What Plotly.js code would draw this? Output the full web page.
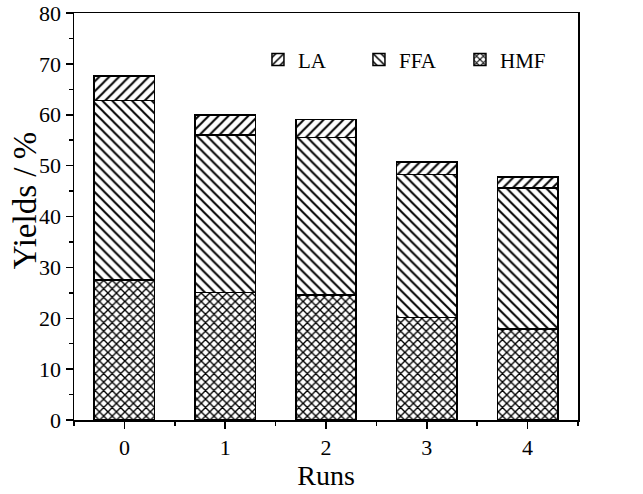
<!DOCTYPE html>
<html>
<head>
<meta charset="utf-8">
<script src="https://cdn.plot.ly/plotly-3.0.1.min.js"></script>
<style>html,body{margin:0;padding:0;background:#fff;}#chart{width:643px;height:494px;}</style>
</head>
<body>
<div id="chart"></div>
<script>
const runs = [0, 1, 2, 3, 4];
const HMF = [27.5, 25.1, 24.6, 20.1, 17.9];
const FFA = [35.3, 30.9, 30.9, 28.2, 27.7];
const LA  = [4.8, 4.0, 3.6, 2.4, 2.2];
const seriesNames = ['HMF', 'FFA', 'LA'];
const seriesShapes = ['x', '\\', '/'];
const seriesValues = [HMF, FFA, LA];

const FONT = '"Liberation Serif", "Times New Roman", "DejaVu Serif", serif';

const traces = seriesValues.map((vals, i) => ({
  type: 'bar',
  name: seriesNames[i],
  x: runs,
  y: vals,
  width: 0.6,
  marker: {
    color: '#fff',
    line: {color: '#000', width: 1.5},
    pattern: {shape: seriesShapes[i], fgcolor: '#000', bgcolor: '#fff', size: i === 0 ? 6 : 7, solidity: i === 0 ? 0.4 : 0.28}
  }
}));

const layout = {
  width: 643, height: 494,
  margin: {l: 74, r: 65, t: 13, b: 74},
  barmode: 'stack',
  paper_bgcolor: '#fff', plot_bgcolor: '#fff',
  font: {family: FONT, color: '#000', size: 22},
  showlegend: true,
  legend: {
    orientation: 'h', traceorder: 'reversed',
    x: 0.365, y: 0.885, xanchor: 'left', yanchor: 'middle',
    entrywidth: 56, entrywidthmode: 'pixels',
    font: {family: FONT, size: 21}, bgcolor: 'rgba(0,0,0,0)'
  },
  xaxis: {
    range: [-0.5, 4.5], tickvals: runs, ticktext: runs.map(String),
    showline: true, mirror: true, linecolor: '#000', linewidth: 1.5,
    ticks: 'outside', ticklen: 7, tickwidth: 1.5, tickcolor: '#000',
    tickfont: {family: FONT, size: 22},
    minor: {dtick: 0.5, tick0: 0.5, ticks: 'outside', ticklen: 4, tickwidth: 1.5, tickcolor: '#000'},
    showgrid: false, zeroline: false,
    title: {text: 'Runs', font: {family: FONT, size: 28}, standoff: 4}
  },
  yaxis: {
    range: [0, 80], dtick: 10,
    showline: true, mirror: true, linecolor: '#000', linewidth: 1.5,
    ticks: 'outside', ticklen: 7, tickwidth: 1.5, tickcolor: '#000',
    tickfont: {family: FONT, size: 22},
    minor: {dtick: 5, ticks: 'outside', ticklen: 4, tickwidth: 1.5, tickcolor: '#000'},
    showgrid: false, zeroline: false
  },
  annotations: [{
    text: 'Yields / %', textangle: -90, showarrow: false,
    xref: 'paper', yref: 'paper', x: -0.097, y: 0.54, xanchor: 'center', yanchor: 'middle',
    font: {family: FONT, size: 33, color: '#000'}
  }]
};

Plotly.newPlot('chart', traces, layout, {displayModeBar: false, staticPlot: true});
</script>
</body>
</html>
